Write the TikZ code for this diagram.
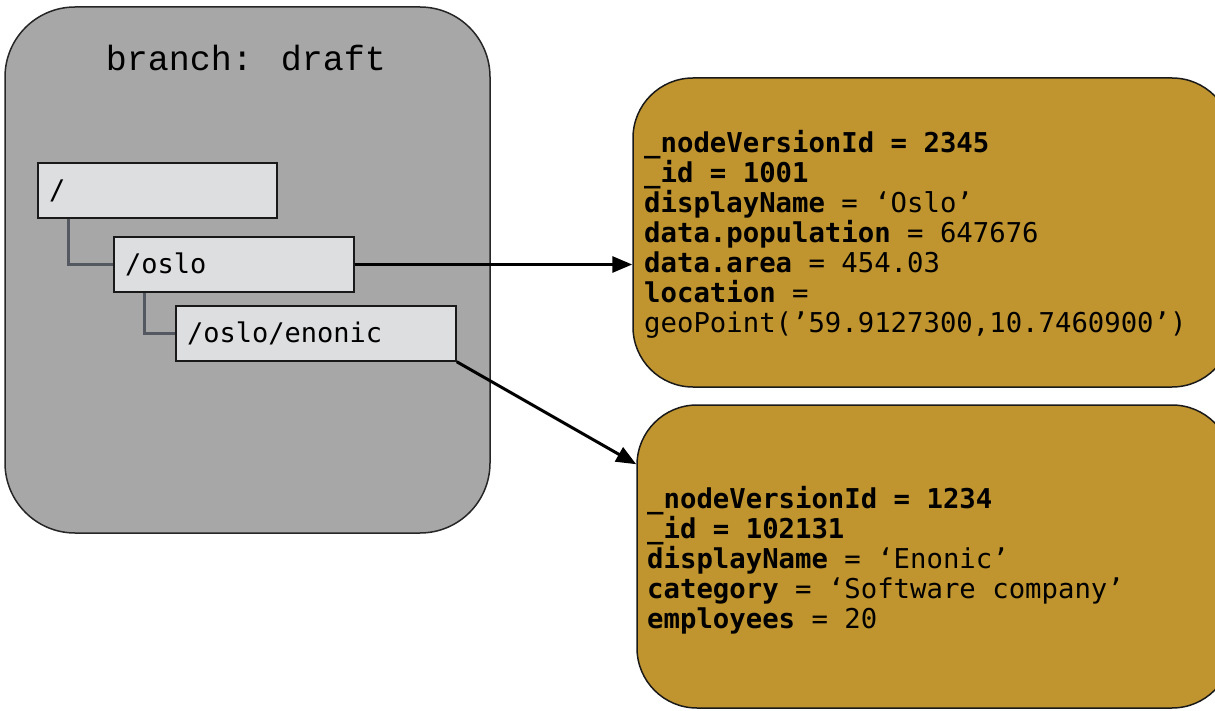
\documentclass[tikz,border=0pt]{standalone}
\usepackage{fontspec}
\usetikzlibrary{arrows.meta,calc}
\newfontfamily\titlefont{Liberation Mono}
\newfontfamily\codefont{DejaVu Sans Mono}
\definecolor{branchgray}{HTML}{A6A7A6}
\definecolor{pathgray}{HTML}{DDDEE0}
\definecolor{linkgray}{HTML}{545860}
\definecolor{gold}{HTML}{C0952F}
\tikzset{
  branchbox/.style={draw=black!85, line width=1.5pt, fill=branchgray, rounded corners=70pt},
  pathbox/.style={draw=black!90, line width=1.5pt, fill=pathgray, minimum height=55pt, inner xsep=11pt, inner ysep=0pt, align=left, font=\codefont\fontsize{27}{30}\selectfont},
  goldbox/.style={draw=black!90, line width=1.5pt, fill=gold, rounded corners=60pt},
  treelink/.style={draw=linkgray, line width=3pt},
  ref/.style={draw=black, line width=3pt, -{Triangle[length=20pt,width=16pt]}},
  props/.style={anchor=north west, inner sep=0pt, align=left, font=\codefont\fontsize{27.3}{30}\selectfont}
}
\begin{document}
\begin{tikzpicture}[x=1pt,y=-1pt]
\useasboundingbox (0,0) rectangle (1215,711);
\clip (0,0) rectangle (1215,711);
% branch box
\node[branchbox, minimum width=485pt, minimum height=526pt] (branch) at (247.5,270) {};
\node[font=\titlefont\fontsize{35}{40}\selectfont] (title) at (246,58) {branch: draft};
% path nodes
\node[pathbox, minimum width=239pt, text width=217pt] (root) at (157.5,190.5) {/};
\node[pathbox, minimum width=240pt, text width=218pt] (oslo) at (234,264.5) {/oslo};
\node[pathbox, minimum width=280pt, text width=258pt] (enonic) at (316,333.5) {/oslo/enonic};
% tree links
\draw[treelink] ($(root.south west)+(31,0)$) |- (oslo.west);
\draw[treelink] ($(oslo.south west)+(31,0)$) |- (enonic.west);
% gold boxes
\node[goldbox, minimum width=599pt, minimum height=309pt] (gold1) at (932.5,232.5) {};
\node[goldbox, minimum width=595pt, minimum height=303pt] (gold2) at (934.5,556.5) {};
\node[props] (text1) at (644,130) {\textbf{\_nodeVersionId = 2345}\\
\textbf{\_id = 1001}\\
\textbf{displayName} = ‘Oslo’\\
\textbf{data.population} = 647676\\
\textbf{data.area} = 454.03\\
\textbf{location} =\\
geoPoint(’59.9127300,10.7460900’)};
\node[props] (text2) at (647,486) {\textbf{\_nodeVersionId = 1234}\\
\textbf{\_id = 102131}\\
\textbf{displayName} = ‘Enonic’\\
\textbf{category} = ‘Software company’\\
\textbf{employees} = 20};
% references
\coordinate (hit2) at ($(gold2.north west)+(0,60)$);
\draw[ref] (oslo.east) -- (oslo.east -| gold1.west);
\draw[ref] (enonic.south east) -- (hit2);
\end{tikzpicture}
\end{document}
